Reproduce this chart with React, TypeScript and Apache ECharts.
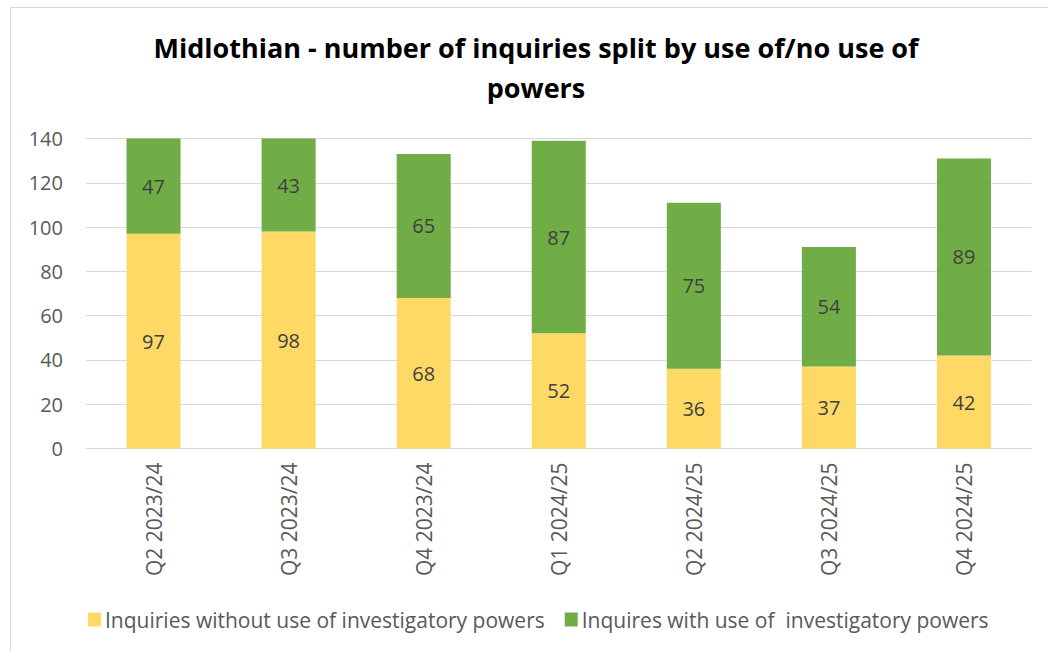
import React, { useEffect, useRef } from "react";
import * as echarts from "echarts";

const categories = ["Q2 2023/24", "Q3 2023/24", "Q4 2023/24", "Q1 2024/25", "Q2 2024/25", "Q3 2024/25", "Q4 2024/25"];
const withoutPowers = [97, 98, 68, 52, 36, 37, 42];
const withPowers = [47, 43, 65, 87, 75, 54, 89];
const seriesNames = ["Inquiries without use of investigatory powers", "Inquires with use of  investigatory powers"];
const titleText = "Midlothian - number of inquiries split by use of/no use of\npowers";

export default function App() {
  const ref = useRef<HTMLDivElement>(null);
  useEffect(() => {
    if (!ref.current) return;
    const chart = echarts.init(ref.current, undefined, { renderer: "svg" });
    const font = "'Open Sans', 'Noto Sans', sans-serif";
    chart.setOption({
      animation: false,
      backgroundColor: "#ffffff",
      textStyle: { fontFamily: font },
      graphic: [
        {
          type: "rect",
          shape: { x: 10.5, y: 7.5, width: 1100, height: 700 },
          style: { fill: "none", stroke: "#d9d9d9", lineWidth: 1 },
          silent: true,
        },
      ],
      title: {
        text: titleText,
        left: 531,
        top: 22,
        textAlign: "center",
        textStyle: { fontFamily: font, fontSize: 27, fontWeight: "bold", color: "#000000", lineHeight: 40 },
      },
      legend: {
        top: 604,
        left: 83,
        itemWidth: 13,
        itemHeight: 14,
        itemGap: 20,
        icon: "rect",
        textStyle: { fontFamily: font, fontSize: 21, color: "#595959", padding: [0, 0, 0, -1] },
        data: seriesNames,
      },
      grid: { left: 86, right: 16.5, top: 138.5, bottom: 203.5, containLabel: false },
      xAxis: {
        type: "category",
        data: categories,
        axisLine: { lineStyle: { color: "#d9d9d9", width: 1 } },
        axisTick: { show: false },
        axisLabel: { rotate: 90, fontFamily: font, fontSize: 21, color: "#595959", margin: 14 },
      },
      yAxis: {
        type: "value",
        min: 0,
        max: 140,
        interval: 20,
        axisLine: { show: false },
        axisTick: { show: false },
        splitLine: { lineStyle: { color: "#d9d9d9", width: 1 } },
        axisLabel: { fontFamily: font, fontSize: 20, color: "#595959", margin: 23 },
      },
      series: [
        {
          name: seriesNames[0],
          type: "bar",
          stack: "total",
          data: withoutPowers,
          barCategoryGap: "60%",
          itemStyle: { color: "#FFD966" },
          label: { show: true, position: "inside", fontFamily: font, fontSize: 20, color: "#404040" },
        },
        {
          name: seriesNames[1],
          type: "bar",
          stack: "total",
          data: withPowers,
          barCategoryGap: "60%",
          itemStyle: { color: "#70AD47" },
          label: { show: true, position: "inside", fontFamily: font, fontSize: 20, color: "#404040" },
        },
      ],
    });
    return () => chart.dispose();
  }, []);
  return <div ref={ref} style={{ position: "absolute", left: 0, top: 0, width: 1048, height: 652 }} />;
}
